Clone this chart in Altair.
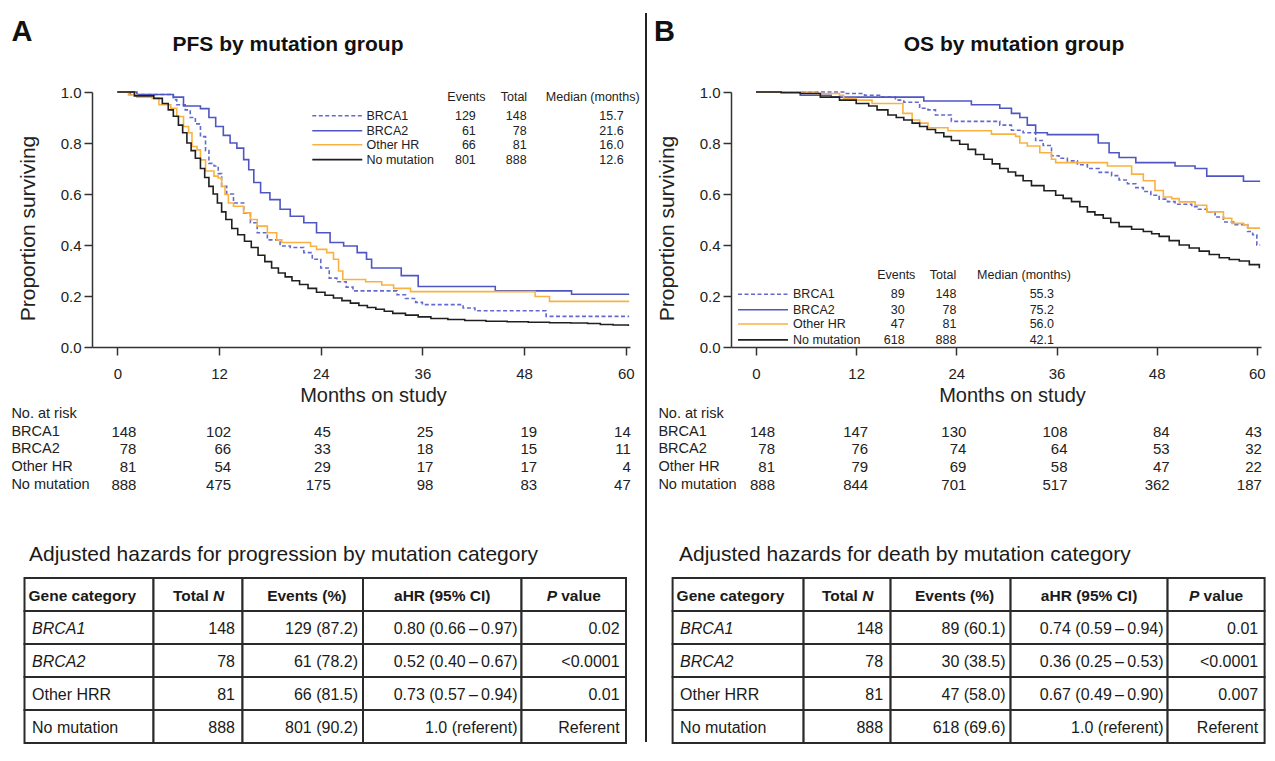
import altair as alt
import pandas as pd

FONT = "Liberation Sans"
INK = "#222222"

# ---------------- data ----------------
GROUPS = ["BRCA1", "BRCA2", "Other HR", "No mutation"]
GROUP_COLORS = ["#6369cf", "#4f56c3", "#f9b242", "#1f1f1f"]
GROUP_DASH = [[4, 2.5], [1, 0], [1, 0], [1, 0]]

# PFS (panel A) Kaplan-Meier steps: months, proportion surviving
pfs_brca1_month = [0, 1.5, 6.6, 7.0, 8.0, 8.6, 9.2, 9.8, 10.4, 10.8, 11.4, 11.9, 12.3, 12.9, 13.7, 14.9, 15.7, 16.5,
                   17.7, 19.2, 20.4, 22.0, 23.0, 24.0, 25.0, 25.9, 27.0, 27.8, 33.0, 34.0, 35.2, 36.0, 40.8, 42.2,
                   50.6, 60.4]
pfs_brca1_surv = [1.0, 0.99, 0.97, 0.95, 0.93, 0.90, 0.875, 0.825, 0.77, 0.72, 0.71, 0.68, 0.63, 0.60, 0.565, 0.525,
                  0.487, 0.448, 0.42, 0.396, 0.39, 0.37, 0.344, 0.31, 0.27, 0.256, 0.235, 0.22, 0.205, 0.19, 0.175,
                  0.166, 0.153, 0.142, 0.12, 0.12]
pfs_brca2_month = [0, 2.3, 6.6, 7.8, 9.8, 10.8, 11.6, 12.5, 13.3, 14.1, 14.9, 15.5, 16.1, 16.9, 18.0, 19.2, 20.4,
                   22.0, 23.5, 25.1, 26.7, 28.3, 29.4, 30.0, 33.5, 35.5, 44.6, 53.6, 60.4]
pfs_brca2_surv = [1.0, 0.99, 0.98, 0.945, 0.935, 0.90, 0.865, 0.83, 0.80, 0.78, 0.735, 0.695, 0.645, 0.605, 0.578,
                  0.54, 0.513, 0.487, 0.448, 0.41, 0.396, 0.37, 0.344, 0.31, 0.28, 0.237, 0.22, 0.207, 0.207]
pfs_other_month = [0, 1.3, 2.3, 4.1, 4.9, 6.3, 7.0, 7.8, 8.4, 8.8, 9.4, 9.8, 10.4, 11.4, 11.9, 12.3, 12.7, 13.1,
                   13.7, 14.9, 15.7, 16.5, 17.7, 18.8, 19.4, 22.8, 23.5, 24.7, 25.5, 26.1, 26.6, 29.3, 31.2, 32.6,
                   34.6, 49.3, 51.0, 60.4]
pfs_other_surv = [1.0, 0.988, 0.98, 0.975, 0.95, 0.936, 0.904, 0.865, 0.84, 0.786, 0.773, 0.734, 0.69, 0.67, 0.663,
                  0.63, 0.598, 0.565, 0.552, 0.526, 0.50, 0.474, 0.448, 0.42, 0.41, 0.395, 0.383, 0.37, 0.344,
                  0.298, 0.265, 0.256, 0.243, 0.23, 0.217, 0.198, 0.179, 0.179]
pfs_none_month = [0, 2.0, 4.3, 5.3, 6.0, 6.6, 7.2, 7.7, 8.2, 8.7, 9.2, 9.8, 10.3, 10.8, 11.3, 11.8, 12.3, 12.8, 13.5,
                  14.2, 15.0, 15.8, 16.6, 17.4, 18.2, 19.0, 19.8, 20.6, 21.5, 22.5, 23.5, 24.5, 25.5, 26.5, 27.5,
                  28.5, 29.5, 30.5, 31.5, 32.5, 34.0, 35.5, 37.0, 39.0, 41.0, 43.5, 46.0, 48.5, 51.0, 53.5, 55.5,
                  57.0, 58.5, 60.3]
pfs_none_surv = [1.0, 0.985, 0.975, 0.955, 0.93, 0.905, 0.87, 0.84, 0.80, 0.77, 0.74, 0.70, 0.665, 0.63, 0.60, 0.565,
                 0.53, 0.50, 0.465, 0.44, 0.415, 0.39, 0.36, 0.335, 0.31, 0.29, 0.275, 0.26, 0.245, 0.23, 0.215,
                 0.203, 0.192, 0.182, 0.172, 0.163, 0.155, 0.148, 0.14, 0.132, 0.125, 0.118, 0.112, 0.108, 0.104,
                 0.101, 0.099, 0.097, 0.095, 0.094, 0.092, 0.088, 0.086, 0.082]

# OS (panel B)
os_brca1_month = [0, 10.5, 13.0, 14.8, 16.7, 17.7, 19.6, 20.6, 21.5, 23.4, 29.2, 30.6, 32.0, 33.5, 34.4, 35.4, 36.3,
                  37.3, 38.5, 39.7, 41.1, 42.6, 43.5, 44.5, 45.5, 46.4, 47.3, 48.3, 49.3, 50.2, 52.2, 53.0, 54.0,
                  55.0, 56.0, 57.4, 58.9, 59.5, 60.0, 60.4]
os_brca1_surv = [1.0, 0.994, 0.987, 0.98, 0.968, 0.96, 0.936, 0.93, 0.91, 0.885, 0.87, 0.85, 0.84, 0.81, 0.79, 0.75,
                 0.74, 0.73, 0.715, 0.70, 0.685, 0.672, 0.655, 0.64, 0.625, 0.61, 0.595, 0.58, 0.57, 0.56, 0.55,
                 0.54, 0.53, 0.51, 0.49, 0.48, 0.453, 0.44, 0.40, 0.40]
os_brca2_month = [0, 5.3, 9.0, 20.1, 25.8, 29.2, 30.6, 31.6, 32.5, 33.5, 34.9, 41.0, 42.3, 43.5, 45.5, 50.2, 52.6,
                  54.0, 58.4, 60.4]
os_brca2_surv = [1.0, 0.987, 0.98, 0.965, 0.95, 0.936, 0.916, 0.90, 0.87, 0.84, 0.833, 0.80, 0.762, 0.743, 0.723,
                 0.71, 0.70, 0.67, 0.65, 0.65]
os_other_month = [0, 7.2, 10.0, 10.5, 12.0, 13.9, 17.6, 18.7, 19.6, 20.6, 23.0, 28.2, 31.1, 31.6, 32.5, 34.0, 35.4,
                  35.9, 42.1, 45.0, 46.4, 47.8, 48.8, 49.8, 50.7, 52.6, 54.0, 56.0, 57.0, 58.4, 58.9, 60.4]
os_other_surv = [1.0, 0.994, 0.987, 0.974, 0.968, 0.955, 0.916, 0.89, 0.878, 0.86, 0.848, 0.835, 0.826, 0.80, 0.788,
                 0.762, 0.736, 0.723, 0.71, 0.678, 0.652, 0.614, 0.588, 0.582, 0.569, 0.556, 0.53, 0.505, 0.485,
                 0.479, 0.466, 0.466]
os_none_month = [0, 3.0, 5.3, 7.7, 10.0, 12.0, 13.5, 14.5, 15.8, 16.8, 17.7, 18.7, 19.6, 20.5, 21.5, 22.5, 23.4,
                 24.4, 25.4, 26.3, 27.3, 28.3, 29.2, 30.2, 31.1, 32.0, 33.0, 34.5, 35.9, 36.8, 37.8, 38.8, 39.7,
                 40.6, 41.6, 42.5, 43.5, 45.0, 46.4, 47.4, 48.3, 49.5, 50.7, 51.9, 53.1, 54.3, 55.5, 56.7, 57.9,
                 59.1, 60.3]
os_none_surv = [1.0, 0.997, 0.994, 0.98, 0.968, 0.955, 0.945, 0.93, 0.91, 0.90, 0.89, 0.878, 0.865, 0.853, 0.84,
                0.825, 0.81, 0.795, 0.775, 0.755, 0.736, 0.718, 0.70, 0.686, 0.672, 0.652, 0.633, 0.613, 0.595,
                0.583, 0.57, 0.55, 0.53, 0.518, 0.505, 0.488, 0.472, 0.462, 0.453, 0.444, 0.434, 0.417, 0.40, 0.388,
                0.376, 0.363, 0.35, 0.343, 0.337, 0.323, 0.309]

# legend columns
pfs_events = [129, 61, 66, 801]
pfs_totals = [148, 78, 81, 888]
pfs_medians = ["15.7", "21.6", "16.0", "12.6"]
os_events = [89, 30, 47, 618]
os_totals = [148, 78, 81, 888]
os_medians = ["55.3", "75.2", "56.0", "42.1"]

# numbers at risk
RISK_MONTHS = [0, 12, 24, 36, 48, 60]
pfs_risk_brca1 = [148, 102, 45, 25, 19, 14]
pfs_risk_brca2 = [78, 66, 33, 18, 15, 11]
pfs_risk_other = [81, 54, 29, 17, 17, 4]
pfs_risk_none = [888, 475, 175, 98, 83, 47]
os_risk_brca1 = [148, 147, 130, 108, 84, 43]
os_risk_brca2 = [78, 76, 74, 64, 53, 32]
os_risk_other = [81, 79, 69, 58, 47, 22]
os_risk_none = [888, 844, 701, 517, 362, 187]

# adjusted hazard tables
HAZ_GENES = ["BRCA1", "BRCA2", "Other HRR", "No mutation"]
HAZ_TOTAL = ["148", "78", "81", "888"]
pfs_haz_events = ["129 (87.2)", "61 (78.2)", "66 (81.5)", "801 (90.2)"]
pfs_haz_ahr = ["0.80 (0.66\u2009\u2013\u20090.97)", "0.52 (0.40\u2009\u2013\u20090.67)",
               "0.73 (0.57\u2009\u2013\u20090.94)", "1.0 (referent)"]
pfs_haz_p = ["0.02", "<0.0001", "0.01", "Referent"]
os_haz_events = ["89 (60.1)", "30 (38.5)", "47 (58.0)", "618 (69.6)"]
os_haz_ahr = ["0.74 (0.59\u2009\u2013\u20090.94)", "0.36 (0.25\u2009\u2013\u20090.53)",
              "0.67 (0.49\u2009\u2013\u20090.90)", "1.0 (referent)"]
os_haz_p = ["0.01", "<0.0001", "0.007", "Referent"]

# ---------------- layout ----------------
X_DOMAIN = [-3, 60.5]
X_TICKS = [0, 12, 24, 36, 48, 60]
Y_TICKS = [0.0, 0.2, 0.4, 0.6, 0.8, 1.0]
PLOT_H = 255
RISK_ROW_H = 17.75
RISK_H = 138.7
RISK_COL_DX = [19, 12, 10, 11, 13, 5]
TABLE_ROW_H = 33
BODY_PAD_R = [0, 7.5, 5, 4, 6.4]

LAYOUT_A = dict(letter="A", letter_x=-70, title="PFS by mutation group", title_x=196, plot_w=538,
                leg_line=(23.0, 28.9), leg_rows=[0.907, 0.848, 0.793, 0.735], leg_head_y=0.982,
                leg_label_x=29.4, leg_cols=(42.3, 48.3, 59.75), leg_head_x=[41.2, 46.8, 56.1],
                risk_label_x=-80.6, table_x=-67.5, table_title_x=-63,
                col_w=[129, 89, 120.5, 158.5, 104.5],
                table_title="Adjusted hazards for progression by mutation category")
LAYOUT_B = dict(letter="B", letter_x=-66.5, title="OS by mutation group", title_x=283, plot_w=530,
                leg_line=(-2.16, 3.83), leg_rows=[0.207, 0.146, 0.090, 0.028], leg_head_y=0.284,
                leg_label_x=4.43, leg_cols=(17.8, 24.0, 35.7), leg_head_x=[16.8, 22.4, 32.1],
                risk_label_x=-72.6, table_x=-58.4, table_title_x=-52,
                col_w=[131, 87, 120, 157, 97],
                table_title="Adjusted hazards for death by mutation category")

AXIS_COMMON = dict(labelFont=FONT, titleFont=FONT, labelColor=INK, titleColor=INK, domainColor="#333333",
                   tickColor="#333333", domainWidth=1.5, tickWidth=1.5, grid=False, titleFontWeight="normal")
X_AXIS = alt.Axis(values=X_TICKS, title="Months on study", labelFontSize=15, titleFontSize=20, tickSize=8,
                  labelPadding=11, titlePadding=4, titleX=281, labelFlush=False, **AXIS_COMMON)
Y_AXIS = alt.Axis(values=Y_TICKS, format=".1f", title="Proportion surviving", labelFontSize=15,
                  titleFontSize=21, tickSize=8, labelPadding=3, titlePadding=22, titleY=136, **AXIS_COMMON)


def km_chart(curves, events, totals, medians, lay):
    rows = []
    for g, (ms, ss) in zip(GROUPS, curves):
        rows += [{"group": g, "month": m, "surv": s} for m, s in zip(ms, ss)]
    df = pd.DataFrame(rows)
    xs = alt.Scale(domain=X_DOMAIN, nice=False, zero=False)
    ys = alt.Scale(domain=[0, 1], nice=False, zero=False)
    color = alt.Color("group:N", scale=alt.Scale(domain=GROUPS, range=GROUP_COLORS), legend=None)
    dash = alt.StrokeDash("group:N", scale=alt.Scale(domain=GROUPS, range=GROUP_DASH), legend=None)
    X = lambda f: alt.X(f, scale=xs, axis=X_AXIS)
    Y = lambda f: alt.Y(f, scale=ys, axis=Y_AXIS)
    lines = alt.Chart(df).mark_line(interpolate="step-after", strokeWidth=1.6).encode(
        x=X("month:Q"), y=Y("surv:Q"), color=color, strokeDash=dash)

    leg = pd.DataFrame({"group": GROUPS, "ly": lay["leg_rows"],
                        "ev": [str(v) for v in events], "tot": [str(v) for v in totals], "med": medians})
    leg["lx1"], leg["lx2"] = lay["leg_line"]
    leg["tx"] = lay["leg_label_x"]
    leg["ex"], leg["nx"], leg["mx"] = lay["leg_cols"]
    txt = dict(font=FONT, fontSize=12.5, color=INK, baseline="middle")
    samples = alt.Chart(leg).mark_rule(strokeWidth=1.6).encode(
        x=X("lx1:Q"), x2="lx2:Q", y=Y("ly:Q"), color=color, strokeDash=dash)
    labels = alt.Chart(leg).mark_text(align="left", **txt).encode(x=X("tx:Q"), y=Y("ly:Q"), text="group:N")
    ev = alt.Chart(leg).mark_text(align="right", **txt).encode(x=X("ex:Q"), y=Y("ly:Q"), text="ev:N")
    tot = alt.Chart(leg).mark_text(align="right", **txt).encode(x=X("nx:Q"), y=Y("ly:Q"), text="tot:N")
    med = alt.Chart(leg).mark_text(align="right", **txt).encode(x=X("mx:Q"), y=Y("ly:Q"), text="med:N")
    head_df = pd.DataFrame({"h": ["Events", "Total", "Median (months)"], "hx": lay["leg_head_x"],
                            "hy": [lay["leg_head_y"]] * 3})
    head = alt.Chart(head_df).mark_text(align="center", **txt).encode(x=X("hx:Q"), y=Y("hy:Q"), text="h:N")

    letter = alt.Chart(pd.DataFrame({"t": [lay["letter"]]})).mark_text(
        font=FONT, fontSize=29, fontWeight="bold", color="#111111", align="center", baseline="middle"
    ).encode(x=alt.value(lay["letter_x"]), y=alt.value(-60), text="t:N")
    title = alt.Chart(pd.DataFrame({"t": [lay["title"]]})).mark_text(
        font=FONT, fontSize=21, fontWeight="bold", color="#111111", align="center", baseline="middle"
    ).encode(x=alt.value(lay["title_x"]), y=alt.value(-47), text="t:N")

    return alt.layer(lines, samples, labels, ev, tot, med, head, letter, title).properties(
        width=lay["plot_w"], height=PLOT_H)


def risk_chart(risk_lists, lay):
    px_per_month = lay["plot_w"] / (X_DOMAIN[1] - X_DOMAIN[0])
    slots = RISK_H / RISK_ROW_H
    ys = alt.Scale(domain=[0, slots], reverse=True, nice=False, zero=False)
    xs = alt.Scale(domain=X_DOMAIN, nice=False, zero=False)
    rows = []
    for r, vals in enumerate(risk_lists, start=1):
        for c, (m, n) in enumerate(zip(RISK_MONTHS, vals)):
            rows.append({"row": r + 0.5, "xr": m + RISK_COL_DX[c] / px_per_month, "n": str(n)})
    nums = alt.Chart(pd.DataFrame(rows)).mark_text(
        align="right", baseline="middle", font=FONT, fontSize=15, color=INK
    ).encode(x=alt.X("xr:Q", scale=xs, axis=None), y=alt.Y("row:Q", scale=ys, axis=None), text="n:N")
    lab_df = pd.DataFrame({"row": [i + 0.5 for i in range(5)], "label": ["No. at risk"] + GROUPS})
    labels = alt.Chart(lab_df).mark_text(
        align="left", baseline="middle", font=FONT, fontSize=14.5, color=INK
    ).encode(x=alt.value(lay["risk_label_x"]), y=alt.Y("row:Q", scale=ys, axis=None), text="label:N")
    return alt.layer(nums, labels).properties(width=lay["plot_w"], height=RISK_H)


def table_chart(events_txt, ahr_txt, p_txt, lay):
    col_w = lay["col_w"]
    edges = [0]
    for w in col_w:
        edges.append(edges[-1] + w)
    tw = edges[-1]
    xs = alt.Scale(domain=[0, tw], range=[lay["table_x"], lay["table_x"] + tw], nice=False, zero=False)
    ys = alt.Scale(domain=[0, 5], range=[0, 5 * TABLE_ROW_H], nice=False, zero=False)
    cells = [{"x0": edges[c], "x1": edges[c + 1], "y0": r, "y1": r + 1} for r in range(5) for c in range(5)]
    rects = alt.Chart(pd.DataFrame(cells)).mark_rect(fill="white", stroke="#2a2a2a", strokeWidth=2).encode(
        x=alt.X("x0:Q", scale=xs, axis=None), x2="x1:Q",
        y=alt.Y("y0:Q", scale=ys, axis=None), y2="y1:Q")

    centers = [(edges[i] + edges[i + 1]) / 2 for i in range(5)]
    pieces = {k: [] for k in ["hl", "hc", "hr", "hi", "bl", "bi", "br"]}
    pieces["hl"].append((edges[0] + 4, 0.5, "Gene category"))
    pieces["hr"].append((centers[1] + 10.8, 0.5, "Total"))
    pieces["hi"].append((centers[1] + 15.1, 0.5, "N"))
    pieces["hc"].append((centers[2] + 4, 0.5, "Events (%)"))
    pieces["hc"].append((centers[3], 0.5, "aHR (95% CI)"))
    pieces["hi"].append((centers[4] - 27.1, 0.5, "P"))
    pieces["hl"].append((centers[4] - 12.5, 0.5, "value"))
    for r, gene in enumerate(HAZ_GENES, start=1):
        kind = "bi" if gene.startswith("BRCA") else "bl"
        pieces[kind].append((edges[0] + 7.5, r + 0.5, gene))
        for c, val in zip(range(1, 5), [HAZ_TOTAL[r - 1], events_txt[r - 1], ahr_txt[r - 1], p_txt[r - 1]]):
            pieces["br"].append((edges[c + 1] - BODY_PAD_R[c], r + 0.5, val))
    styles = {
        "hl": ("left", "bold", "normal", 15.5), "hc": ("center", "bold", "normal", 15.5),
        "hr": ("right", "bold", "normal", 15.5), "hi": ("left", "bold", "italic", 15.5),
        "bl": ("left", "normal", "normal", 16), "bi": ("left", "normal", "italic", 16),
        "br": ("right", "normal", "normal", 16),
    }
    layers = [rects]
    for k, items in pieces.items():
        if not items:
            continue
        align, weight, style, size = styles[k]
        d = pd.DataFrame(items, columns=["tx", "ty", "text"])
        layers.append(alt.Chart(d).mark_text(
            align=align, baseline="middle", dy=1, font=FONT, fontSize=size, fontWeight=weight,
            fontStyle=style, color="#1a1a1a"
        ).encode(x=alt.X("tx:Q", scale=xs, axis=None), y=alt.Y("ty:Q", scale=ys, axis=None), text="text:N"))
    ttl = alt.Chart(pd.DataFrame({"t": [lay["table_title"]]})).mark_text(
        align="left", baseline="middle", font=FONT, fontSize=21, color="#1a1a1a"
    ).encode(x=alt.value(lay["table_title_x"]), y=alt.value(-23), text="t:N")
    layers.append(ttl)
    return alt.layer(*layers).properties(width=lay["plot_w"], height=5 * TABLE_ROW_H)


def panel(curves, events, totals, medians, risk_lists, haz_events, haz_ahr, haz_p, lay):
    return alt.vconcat(
        km_chart(curves, events, totals, medians, lay),
        risk_chart(risk_lists, lay),
        table_chart(haz_events, haz_ahr, haz_p, lay),
        spacing=0,
    )


panel_a = panel(
    [(pfs_brca1_month, pfs_brca1_surv), (pfs_brca2_month, pfs_brca2_surv),
     (pfs_other_month, pfs_other_surv), (pfs_none_month, pfs_none_surv)],
    pfs_events, pfs_totals, pfs_medians,
    [pfs_risk_brca1, pfs_risk_brca2, pfs_risk_other, pfs_risk_none],
    pfs_haz_events, pfs_haz_ahr, pfs_haz_p, LAYOUT_A)
panel_b = panel(
    [(os_brca1_month, os_brca1_surv), (os_brca2_month, os_brca2_surv),
     (os_other_month, os_other_surv), (os_none_month, os_none_surv)],
    os_events, os_totals, os_medians,
    [os_risk_brca1, os_risk_brca2, os_risk_other, os_risk_none],
    os_haz_events, os_haz_ahr, os_haz_p, LAYOUT_B)

divider = alt.Chart(pd.DataFrame({"k": [0]})).mark_rule(color="#222222", strokeWidth=2).encode(
    x=alt.value(0), y=alt.value(-79), y2=alt.value(650)).properties(width=3, height=1)

chart = alt.hconcat(panel_a, divider, panel_b, spacing=5).properties(
    padding={"left": 3, "top": 4, "right": 0, "bottom": 0}
).configure(font=FONT, background="white").configure_view(stroke="transparent", strokeWidth=0)

chart.save("out.html", embed_options={"renderer": "svg", "actions": False})
